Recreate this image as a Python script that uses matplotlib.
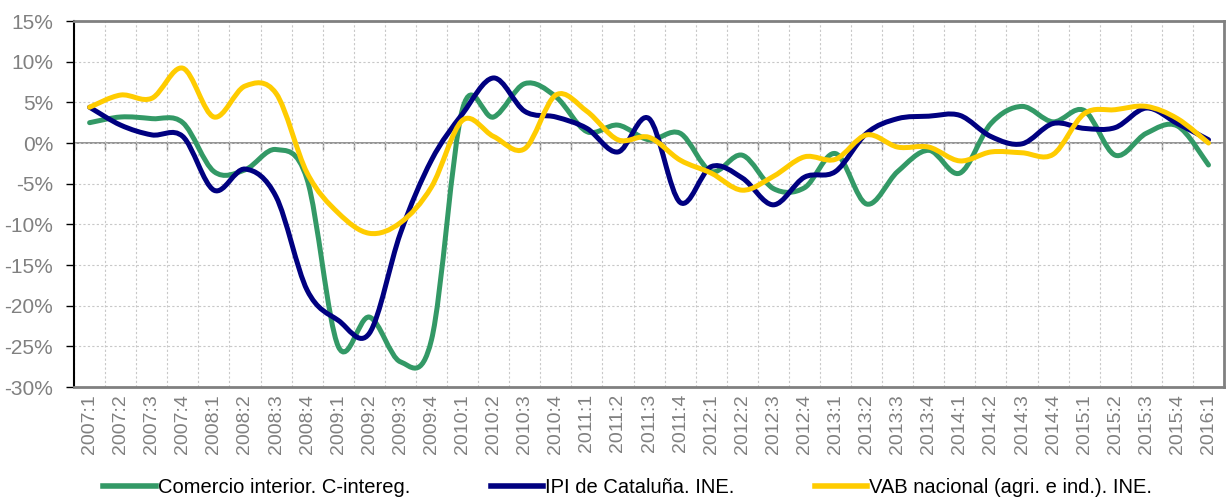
import matplotlib
matplotlib.use('Agg')
import matplotlib.pyplot as plt
import numpy as np
from matplotlib.path import Path
from matplotlib.patches import PathPatch
from matplotlib.lines import Line2D

plt.rcParams['font.family'] = ['Liberation Sans', 'DejaVu Sans']

# trimestres 2007:1 .. 2016:1
trimestres = ['%d:%d' % (a, t) for a in range(2007, 2017) for t in range(1, 5)][:37]

comercio = [2.5, 3.2, 3.0, 2.5, -3.5, -3.3, -0.8, -4.5, -25.0, -21.4, -26.9, -24.2,
            4.2, 3.2, 7.3, 5.7, 1.4, 2.2, 0.4, 1.2, -3.5, -1.5, -5.6, -5.5,
            -1.3, -7.5, -3.5, -0.9, -3.7, 2.4, 4.5, 2.6, 4.0, -1.5, 1.2, 2.1, -2.7]
ipi = [4.4, 2.2, 1.0, 0.8, -5.8, -3.2, -6.6, -18.1, -21.8, -23.4, -11.1, -2.1,
       3.6, 8.0, 3.9, 3.2, 1.8, -1.1, 3.0, -7.3, -2.9, -4.3, -7.6, -4.2,
       -3.5, 1.2, 3.0, 3.3, 3.4, 0.8, -0.1, 2.4, 1.8, 1.9, 4.3, 2.4, 0.4]
vab = [4.4, 5.9, 5.5, 9.2, 3.2, 7.0, 6.1, -3.7, -8.6, -11.1, -9.8, -5.4,
       2.8, 0.8, -0.7, 5.9, 3.9, 0.4, 0.7, -2.1, -3.7, -5.8, -4.1, -1.7,
       -2.0, 1.0, -0.5, -0.5, -2.2, -1.1, -1.2, -1.4, 3.6, 4.1, 4.5, 3.0, 0.0]

series = [
    ('Comercio interior. C-intereg.', comercio, '#339966'),
    ('IPI de Cataluña. INE.', ipi, '#000080'),
    ('VAB nacional (agri. e ind.). INE.', vab, '#FFCC00'),
]
yticks = list(range(-30, 20, 5))
gris = '#808080'


def curva(x, y):
    # linea suavizada tipo Excel (Bezier por los puntos)
    p = np.column_stack([x, y]).astype(float)
    p_ext = np.vstack([p[0], p, p[-1]])
    verts = [p[0]]
    codes = [Path.MOVETO]
    for i in range(len(p) - 1):
        c1 = p_ext[i + 1] + (p_ext[i + 2] - p_ext[i]) / 6.0
        c2 = p_ext[i + 2] - (p_ext[i + 3] - p_ext[i + 1]) / 6.0
        verts += [c1, c2, p[i + 1]]
        codes += [Path.CURVE4] * 3
    return Path(verts, codes)


fig = plt.figure(figsize=(12.26, 4.97), dpi=100)
ax = fig.add_axes([0.0604, 0.2213, 0.938, 0.7364])

x = np.arange(len(trimestres))
for nombre, vals, color in series:
    ax.add_patch(PathPatch(curva(x, vals), fill=False, edgecolor=color, lw=3.6,
                           capstyle='round', joinstyle='round', zorder=3))

ax.set_xlim(-0.5, len(trimestres) - 0.5)
ax.set_ylim(-30, 15)
ax.set_yticks(yticks)
ax.set_yticklabels(['%d%%' % v for v in yticks])
ax.set_xticks(x)
ax.set_xticklabels(trimestres, rotation=90)
ax.set_xticks(np.arange(-0.5, len(trimestres), 1), minor=True)

ax.tick_params(axis='y', colors=gris, labelsize=15, length=6, width=1, pad=9,
               color='black')
ax.tick_params(axis='x', which='both', length=0, labelsize=14, colors=gris, pad=5)

ax.grid(True, axis='y', which='major', color='#c8c8c8', ls=(0, (2, 2)), lw=0.8)
ax.grid(True, axis='x', which='minor', color='#c8c8c8', ls=(0, (2, 2)), lw=0.8)
ax.set_axisbelow(True)

for s in ['top', 'right', 'bottom']:
    ax.spines[s].set_color(gris)
    ax.spines[s].set_linewidth(2)
ax.spines['left'].set_color('black')
ax.spines['left'].set_linewidth(1.5)

# eje de categorias en el 0%
sec = ax.secondary_xaxis(0, transform=ax.transData)
sec.set_xticks(np.arange(-0.5, len(trimestres), 1))
sec.set_xticklabels([])
sec.tick_params(length=5, color=gris, width=1)
sec.spines['bottom'].set_color(gris)
sec.spines['bottom'].set_linewidth(1.2)

handles = [Line2D([], [], color=c, lw=4) for _, _, c in series]
fig.legend(handles, [n for n, _, _ in series], loc='center', ncol=3,
           bbox_to_anchor=(0.512, 0.019), frameon=False, fontsize=14.5,
           handlelength=2.6, handletextpad=0.1, columnspacing=4.0,
           borderaxespad=0)

fig.savefig('out.png', dpi=100)
